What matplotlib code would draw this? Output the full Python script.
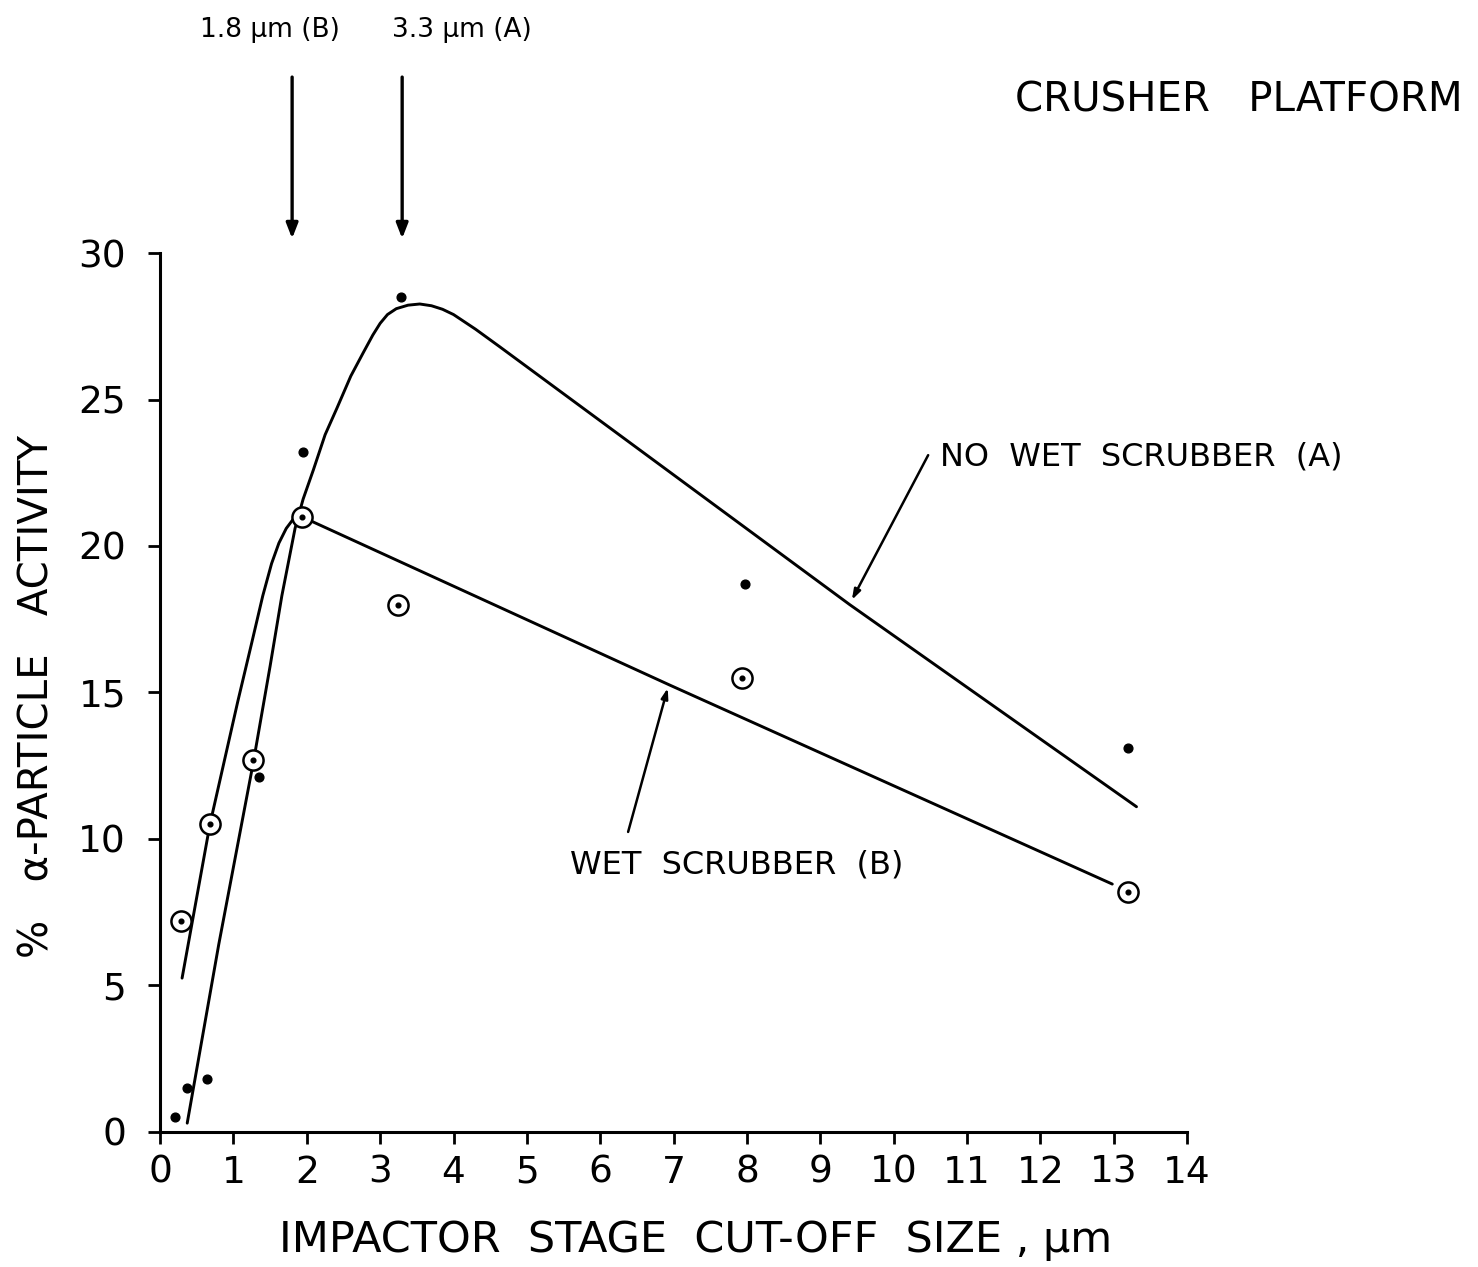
import matplotlib
matplotlib.use("Agg")
import matplotlib.pyplot as plt

# ---- data ----
# measured points, no wet scrubber (A)  -> filled dots
a_x = [0.20, 0.37, 0.64, 1.35, 1.95, 3.28, 7.97, 13.2]
a_y = [0.5, 1.5, 1.8, 12.1, 23.2, 28.5, 18.7, 13.1]
# measured points, wet scrubber (B) -> circled dots
b_x = [0.29, 0.68, 1.27, 1.93, 3.24, 7.93, 13.2]
b_y = [7.2, 10.5, 12.7, 21.0, 18.0, 15.5, 8.2]

# hand-drawn fitted curve (A)
curve_a_x = [0.37, 0.80, 1.27, 1.50, 1.66, 1.84, 1.95, 2.09, 2.25, 2.41, 2.60, 2.77, 2.90,
             3.00, 3.10, 3.22, 3.38, 3.54, 3.70, 3.85, 4.00, 4.15, 4.30, 4.63, 9.40, 13.31]
curve_a_y = [0.3, 6.4, 12.6, 15.9, 18.3, 20.6, 21.6, 22.6, 23.8, 24.7, 25.8, 26.6, 27.2,
             27.6, 27.9, 28.1, 28.22, 28.26, 28.2, 28.08, 27.9, 27.65, 27.4, 26.8, 18.0, 11.1]
# hand-drawn fitted curve (B): rising branch and falling branch
curve_b1_x = [0.30, 0.68, 1.06, 1.25, 1.40, 1.52, 1.62, 1.72, 1.81, 1.88]
curve_b1_y = [5.25, 10.5, 14.7, 16.7, 18.3, 19.4, 20.1, 20.6, 20.9, 21.0]
curve_b2_x = [1.93, 6.95, 12.98]
curve_b2_y = [21.0, 15.25, 8.46]

x_ticks = list(range(0, 15))
y_ticks = [0, 5, 10, 15, 20, 25, 30]

cutoff_b = 1.8
cutoff_a = 3.3

plt.rcParams['font.family'] = ['DejaVu Sans']
narrow = ['Liberation Sans Narrow', 'DejaVu Sans']

fig = plt.figure(figsize=(14.78, 12.67), dpi=100)
ax = fig.add_axes([0.1083, 0.1066, 0.6949, 0.6937])

lw = 2.1
for cx, cy in [(curve_a_x, curve_a_y), (curve_b1_x, curve_b1_y), (curve_b2_x, curve_b2_y)]:
    ax.plot(cx, cy, color='black', lw=lw, solid_capstyle='round', solid_joinstyle='round')

ax.plot(a_x, a_y, 'o', color='black', markersize=6.3, zorder=5)
ax.plot(b_x, b_y, 'o', markerfacecolor='white', markeredgecolor='black',
        markeredgewidth=1.8, markersize=14.5, zorder=5)
ax.plot(b_x, b_y, 'o', color='black', markersize=3.4, zorder=6)

ax.set_xlim(0, 14)
ax.set_ylim(0, 30)
ax.set_xticks(x_ticks)
ax.set_yticks(y_ticks)
ax.set_xticklabels([str(t) for t in x_ticks], family=narrow, fontsize=27)
ax.set_yticklabels([str(t) for t in y_ticks], family=narrow, fontsize=27)
for s in ['top', 'right']:
    ax.spines[s].set_visible(False)
for s in ['left', 'bottom']:
    ax.spines[s].set_linewidth(2.2)
ax.tick_params(axis='x', direction='out', length=8.5, width=2.0, pad=8)
ax.tick_params(axis='y', direction='out', length=8.5, width=2.0, pad=16)

ax.set_xlabel('IMPACTOR  STAGE  CUT-OFF  SIZE , µm', family=narrow, fontsize=31)
ax.xaxis.label.set_va('center')
ax.xaxis.set_label_coords(0.521, -0.123)
ax.set_ylabel('%   α-PARTICLE   ACTIVITY', fontsize=29)
ax.yaxis.label.set_va('center')
ax.yaxis.set_label_coords(-0.119, 0.495)

# top arrows marking the peak sizes
arrow_kw = dict(arrowstyle='-|>,head_length=0.9,head_width=0.35', color='black', lw=2.4)
ax.annotate('', xy=(cutoff_b, 30.4), xytext=(cutoff_b, 36.1),
            arrowprops=arrow_kw, annotation_clip=False)
ax.annotate('', xy=(cutoff_a, 30.4), xytext=(cutoff_a, 36.1),
            arrowprops=arrow_kw, annotation_clip=False)
ax.text(1.5, 37.6, '1.8 µm (B)', fontsize=19, ha='center', va='center', clip_on=False)
ax.text(4.12, 37.6, '3.3 µm (A)', fontsize=19, ha='center', va='center', clip_on=False)

ax.text(11.65, 35.2, 'CRUSHER   PLATFORM', fontsize=29, ha='left', va='center', clip_on=False)

# curve labels with pointer arrows
ptr_kw = dict(arrowstyle='-|>,head_length=0.6,head_width=0.2', color='black', lw=1.8,
              shrinkA=0, shrinkB=0)
ax.annotate('', xy=(9.43, 18.16), xytext=(10.47, 23.1), arrowprops=ptr_kw)
ax.text(10.63, 23.04, 'NO  WET  SCRUBBER  (A)', fontsize=23, ha='left', va='center')
ax.annotate('', xy=(6.92, 15.15), xytext=(6.38, 10.24), arrowprops=ptr_kw)
ax.text(5.59, 9.11, 'WET  SCRUBBER  (B)', fontsize=23, ha='left', va='center')

fig.savefig('out.png', dpi=100, facecolor='white')
